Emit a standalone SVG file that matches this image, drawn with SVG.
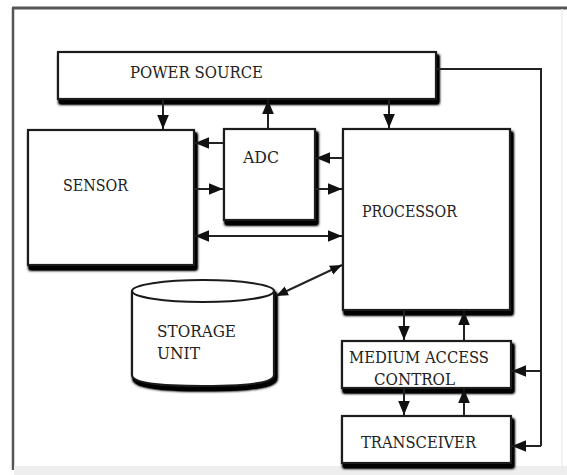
<svg xmlns="http://www.w3.org/2000/svg" width="567" height="475" viewBox="0 0 567 475">
<defs>
<filter id="sh" x="-10%" y="-10%" width="125%" height="140%">
<feGaussianBlur in="SourceAlpha" stdDeviation="1.8"/>
<feOffset dx="2" dy="4"/>
<feComponentTransfer><feFuncA type="linear" slope="2"/></feComponentTransfer>
<feMerge><feMergeNode/><feMergeNode in="SourceGraphic"/></feMerge>
</filter>
<marker id="ah" markerUnits="userSpaceOnUse" markerWidth="14" markerHeight="12" refX="12" refY="5" orient="auto-start-reverse" viewBox="0 0 12 10">
<path d="M0,0 L12,5 L0,10 z" fill="#111"/>
</marker>
<marker id="as" markerUnits="userSpaceOnUse" markerWidth="12" markerHeight="10" refX="11" refY="4.5" orient="auto-start-reverse" viewBox="0 0 11 9">
<path d="M0,0 L11,4.5 L0,9 z" fill="#111"/>
</marker>
</defs>
<style>
.box{fill:#fff;stroke:#1a1a1a;stroke-width:2.2;filter:url(#sh)}
.lbl{font-family:'DejaVu Serif','Liberation Serif',serif;font-size:17px;fill:#222}
.c{fill:none;stroke:#222;stroke-width:2}
</style>
<rect width="567" height="475" fill="#fff"/>
<g id="frame">
<line x1="12" y1="8" x2="567" y2="8" stroke="#555" stroke-width="3"/>
<line x1="13" y1="8" x2="13" y2="470" stroke="#555" stroke-width="2.5"/>
<line x1="562" y1="9" x2="562" y2="466" stroke="#eee" stroke-width="1.5"/>
<rect x="14" y="466" width="553" height="9" fill="#eeeeee"/>
</g>
<g id="power-source">
<rect class="box" x="58" y="52" width="378" height="47"/>
<text class="lbl" x="130" y="78" textLength="133" lengthAdjust="spacingAndGlyphs">POWER SOURCE</text>
</g>
<g id="sensor">
<rect class="box" x="28" y="130" width="166" height="135"/>
<text class="lbl" x="63" y="191" textLength="65" lengthAdjust="spacingAndGlyphs">SENSOR</text>
</g>
<g id="adc">
<rect class="box" x="224" y="129" width="91" height="91"/>
<text class="lbl" x="243" y="163" textLength="36" lengthAdjust="spacingAndGlyphs">ADC</text>
</g>
<g id="processor">
<rect class="box" x="343" y="129" width="167" height="181"/>
<text class="lbl" x="362" y="217" textLength="95" lengthAdjust="spacingAndGlyphs">PROCESSOR</text>
</g>
<g id="storage-unit">
<path class="box" d="M132,291 A71,11 0 0 1 274,291 L274,375 Q274,386 203,386 Q132,386 132,375 Z"/>
<path d="M132,291 A71,11 0 0 0 274,291" fill="none" stroke="#1a1a1a" stroke-width="2.2"/>
<text class="lbl" x="157" y="337" textLength="79" lengthAdjust="spacingAndGlyphs">STORAGE</text>
<text class="lbl" x="157" y="359" textLength="43" lengthAdjust="spacingAndGlyphs">UNIT</text>
</g>
<g id="medium-access-control">
<rect class="box" x="342" y="341" width="169" height="47"/>
<text class="lbl" x="349" y="363" textLength="140" lengthAdjust="spacingAndGlyphs">MEDIUM ACCESS</text>
<text class="lbl" x="374" y="385" textLength="81" lengthAdjust="spacingAndGlyphs">CONTROL</text>
</g>
<g id="transceiver">
<rect class="box" x="342" y="416" width="169" height="47"/>
<text class="lbl" x="361" y="448" textLength="115" lengthAdjust="spacingAndGlyphs">TRANSCEIVER</text>
</g>
<g id="connectors">
<line class="c" x1="163" y1="100" x2="163" y2="129" marker-end="url(#ah)"/>
<line class="c" x1="268" y1="128" x2="268" y2="100" marker-end="url(#ah)"/>
<line class="c" x1="389" y1="100" x2="389" y2="128" marker-end="url(#ah)"/>
<line class="c" x1="223" y1="143" x2="195" y2="143" marker-end="url(#ah)"/>
<line class="c" x1="342" y1="158" x2="316" y2="158" marker-end="url(#ah)"/>
<line class="c" x1="195" y1="189" x2="223" y2="189" marker-end="url(#ah)"/>
<line class="c" x1="316" y1="189" x2="342" y2="189" marker-end="url(#ah)"/>
<line class="c" x1="195" y1="236" x2="342" y2="236" marker-start="url(#ah)" marker-end="url(#ah)"/>
<line class="c" x1="276" y1="296" x2="342" y2="265" marker-start="url(#as)" marker-end="url(#as)"/>
<line class="c" x1="404" y1="311" x2="404" y2="340" marker-end="url(#ah)"/>
<line class="c" x1="464" y1="340" x2="464" y2="311" marker-end="url(#ah)"/>
<line class="c" x1="404" y1="389" x2="404" y2="415" marker-end="url(#ah)"/>
<line class="c" x1="464" y1="415" x2="464" y2="389" marker-end="url(#ah)"/>
<polyline class="c" points="437,69 541,69 541,446"/>
<line class="c" x1="541" y1="371" x2="512" y2="371" marker-end="url(#ah)"/>
<line class="c" x1="541" y1="446" x2="512" y2="446" marker-end="url(#ah)"/>
</g>
</svg>
